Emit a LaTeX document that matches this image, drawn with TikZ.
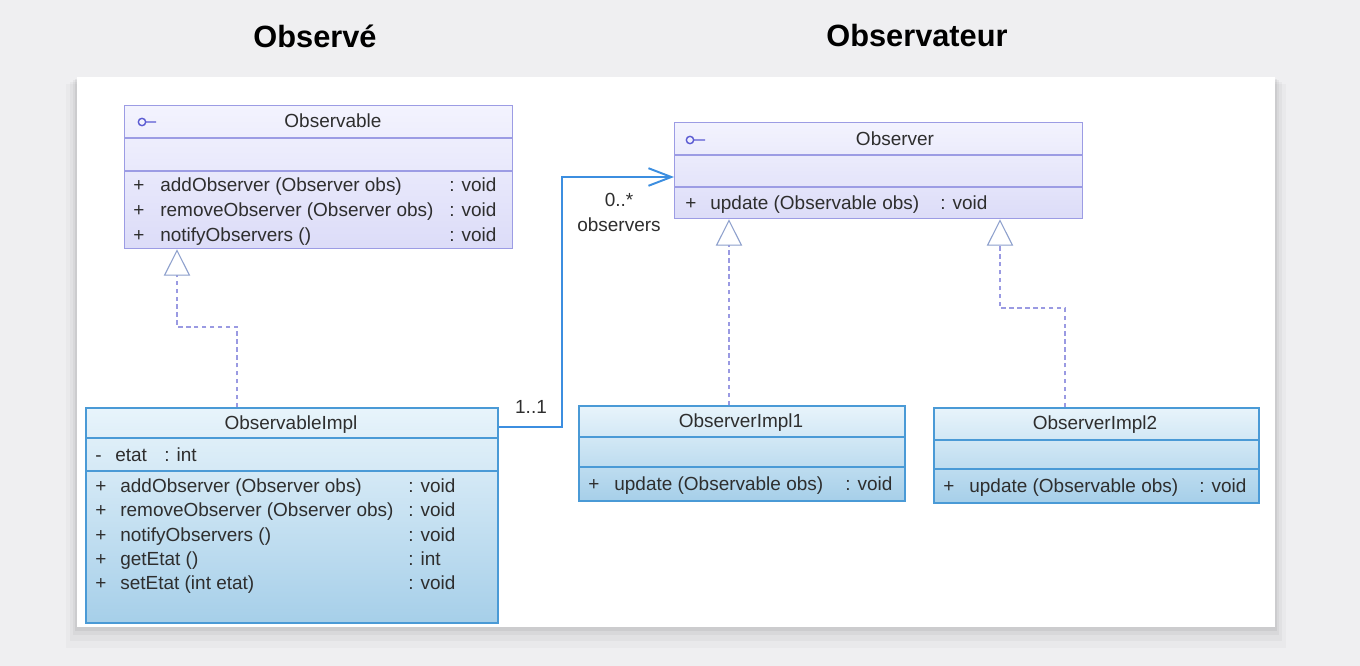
\documentclass[tikz,border=0pt]{standalone}
\usepackage{fontspec}
\setmainfont{Liberation Sans}
\usetikzlibrary{arrows.meta}
\definecolor{bggray}{HTML}{EFEFF1}
\definecolor{ifaceline}{HTML}{9C9CE4}
\definecolor{ifacetop}{HTML}{F3F3FE}
\definecolor{ifacebot}{HTML}{DCDCF8}
\definecolor{iconblue}{HTML}{5A5AD2}
\definecolor{implline}{HTML}{4A9AD6}
\definecolor{impltop}{HTML}{E8F4FB}
\definecolor{implbot}{HTML}{A6CFE9}
\definecolor{dashline}{HTML}{9A9AE2}
\definecolor{triline}{HTML}{8C9FCC}
\definecolor{assocblue}{HTML}{3C8EE0}
\definecolor{textgray}{HTML}{2E2E2E}
\begin{document}
\begin{tikzpicture}[x=0.02cm, y=-0.02cm, >=stealth,
		txt/.style={font=\fontsize{10.8}{12}\selectfont, text=textgray, inner sep=0pt, anchor=west, text height=1.6ex, text depth=0.4ex},
		ctxt/.style={txt, anchor=center},
		heading/.style={font=\fontsize{17.5}{20}\selectfont\bfseries, text=black, inner sep=0pt},
		ifacebox/.style={draw=ifaceline, line width=0.8pt, top color=ifacetop, bottom color=ifacebot, anchor=north west, inner sep=0pt},
		implbox/.style={draw=implline, line width=0.9pt, top color=impltop, bottom color=implbot, anchor=north west, inner sep=0pt},
		ifacesep/.style={ifaceline, line width=0.8pt},
		implsep/.style={implline, line width=0.9pt},
		realize/.style={dashline, line width=0.6pt, dash pattern=on 2.5pt off 2pt, -{Triangle[length=15pt, width=15pt, color=triline, fill=white]}},
		assoc/.style={assocblue, line width=1.1pt, -{Straight Barb[length=13pt, width=10pt]}}]
	\fill[bggray] (0,0) rectangle (1360,666);
	\fill[black, opacity=0.025] (66,84) rectangle (1286,648);
	\fill[black, opacity=0.03] (70,82) rectangle (1282,641);
	\fill[black, opacity=0.04] (73,80) rectangle (1279,635);
	\fill[black, opacity=0.05] (75,79) rectangle (1277,631);
	\fill[white] (77,77) rectangle (1275,627);
	\node[heading] (hObs) at (315,36) {Observé};
	\node[heading] (hObsr) at (917,36) {Observateur};
	\node[ifacebox, minimum width=7.76cm, minimum height=2.86cm] (observable) at (124,105) {};
	\draw[ifacesep] (124,138) -- (512,138);
	\draw[ifacesep] (124,171) -- (512,171);
	\draw[iconblue, line width=0.8pt] (142,122) circle (2.1pt) (146,122) -- (156,122);
	\node[ctxt] (obsName) at (333,122) {Observable};
	\node[txt] (obsP1) at (133,186) {+};
	\node[txt] (obsM1) at (160,186) {addObserver (Observer obs)};
	\node[txt] (obsT1) at (449,186) {: void};
	\node[txt] (obsP2) at (133,211) {+};
	\node[txt] (obsM2) at (160,211) {removeObserver (Observer obs)};
	\node[txt] (obsT2) at (449,211) {: void};
	\node[txt] (obsP3) at (133,236) {+};
	\node[txt] (obsM3) at (160,236) {notifyObservers ()};
	\node[txt] (obsT3) at (449,236) {: void};
	\node[ifacebox, minimum width=8.16cm, minimum height=1.92cm] (observer) at (674,122) {};
	\draw[ifacesep] (674,155) -- (1082,155);
	\draw[ifacesep] (674,187) -- (1082,187);
	\draw[iconblue, line width=0.8pt] (690,140) circle (2.1pt) (694,140) -- (705,140);
	\node[ctxt] (obsrName) at (895,140) {Observer};
	\node[txt] (obsrP1) at (685,204) {+};
	\node[txt] (obsrM1) at (710,204) {update (Observable obs)};
	\node[txt] (obsrT1) at (940,204) {: void};
	\node[implbox, minimum width=8.24cm, minimum height=4.3cm] (impl) at (85,407) {};
	\draw[implsep] (85,438) -- (497,438);
	\draw[implsep] (85,471) -- (497,471);
	\node[ctxt] (implName) at (291,424) {ObservableImpl};
	\node[txt] (implA0) at (95,456) {-};
	\node[txt] (implA1) at (115,456) {etat};
	\node[txt] (implA2) at (164,456) {: int};
	\node[txt] (implP1) at (95,487) {+};
	\node[txt] (implM1) at (120,487) {addObserver (Observer obs)};
	\node[txt] (implT1) at (408,487) {: void};
	\node[txt] (implP2) at (95,511) {+};
	\node[txt] (implM2) at (120,511) {removeObserver (Observer obs)};
	\node[txt] (implT2) at (408,511) {: void};
	\node[txt] (implP3) at (95,536) {+};
	\node[txt] (implM3) at (120,536) {notifyObservers ()};
	\node[txt] (implT3) at (408,536) {: void};
	\node[txt] (implP4) at (95,560) {+};
	\node[txt] (implM4) at (120,560) {getEtat ()};
	\node[txt] (implT4) at (408,560) {: int};
	\node[txt] (implP5) at (95,584) {+};
	\node[txt] (implM5) at (120,584) {setEtat (int etat)};
	\node[txt] (implT5) at (408,584) {: void};
	\node[implbox, minimum width=6.52cm, minimum height=1.9cm] (oimpl1) at (578,405) {};
	\draw[implsep] (578,437) -- (904,437);
	\draw[implsep] (578,467) -- (904,467);
	\node[ctxt] (oi1Name) at (741,422) {ObserverImpl1};
	\node[txt] (oi1P1) at (588,485) {+};
	\node[txt] (oi1M1) at (614,485) {update (Observable obs)};
	\node[txt] (oi1T1) at (845,485) {: void};
	\node[implbox, minimum width=6.5cm, minimum height=1.9cm] (oimpl2) at (933,407) {};
	\draw[implsep] (933,440) -- (1258,440);
	\draw[implsep] (933,469) -- (1258,469);
	\node[ctxt] (oi2Name) at (1095,424) {ObserverImpl2};
	\node[txt] (oi2P1) at (943,487) {+};
	\node[txt] (oi2M1) at (969,487) {update (Observable obs)};
	\node[txt] (oi2T1) at (1199,487) {: void};
	\coordinate (r1) at (237,327);
	\coordinate (r2) at (177,327);
	\draw[realize] (impl.north -| r1) -- (r1) -- (r2) -- (observable.south -| r2);
	\coordinate (r3) at (729,300);
	\draw[realize] (oimpl1.north -| r3) -- (observer.south -| r3);
	\coordinate (r4) at (1065,308);
	\coordinate (r5) at (1000,308);
	\draw[realize] (oimpl2.north -| r4) -- (r4) -- (r5) -- (observer.south -| r5);
	\coordinate (a1) at (562,427);
	\coordinate (a2) at (562,177);
	\draw[assoc] (impl.east |- a1) -- (a1) -- (a2) -- (observer.west |- a2);
	\node[ctxt] (mult1) at (531,408) {1..1};
	\node[ctxt] (mult2) at (619,201) {0..*};
	\node[ctxt] (role) at (619,226) {observers};
	\path (0,0) rectangle (1360,666);
\end{tikzpicture}
\end{document}
